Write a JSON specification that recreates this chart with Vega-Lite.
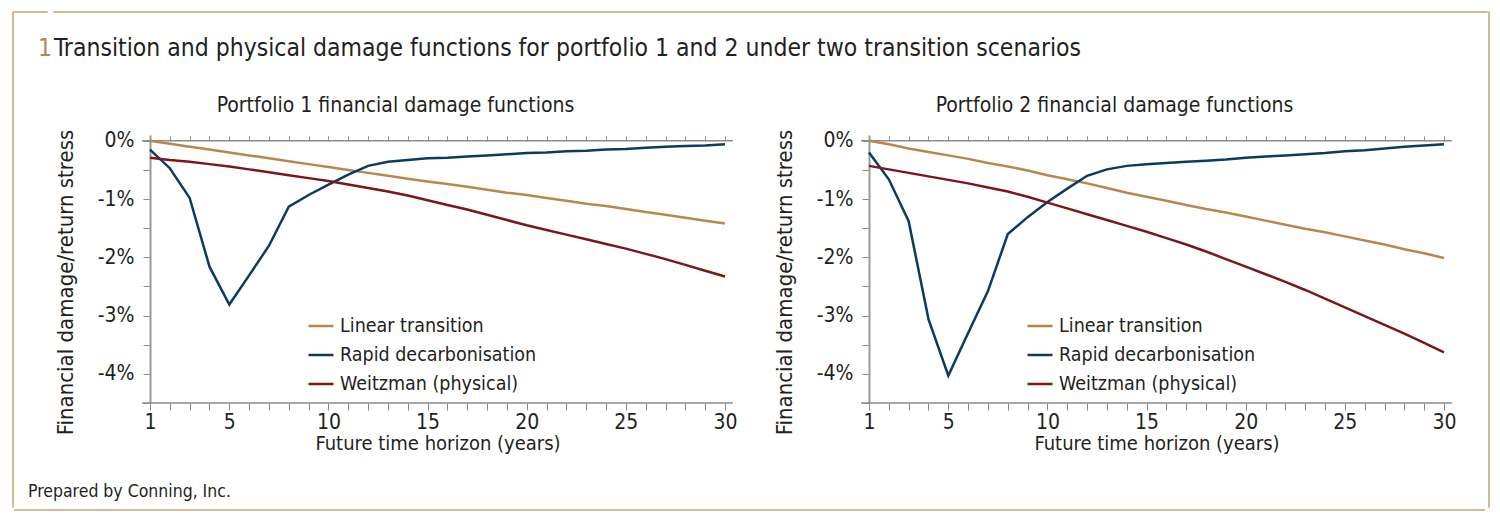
{
  "$schema": "https://vega.github.io/schema/vega-lite/v6.json",
  "padding": {"left": 12, "top": 11, "right": 5, "bottom": 5},
  "background": "white",
  "config": {
    "view": {"stroke": null},
    "font": "Liberation Sans Narrow, DejaVu Sans Condensed, sans-serif",
    "axis": {"labelColor": "#231f20", "titleColor": "#231f20", "titleFontWeight": "normal", "grid": false, "tickColor": "#8c8c8c", "domainColor": "#9a9a9a", "labelFont": "Liberation Sans Narrow, DejaVu Sans Condensed, sans-serif", "titleFont": "Liberation Sans Narrow, DejaVu Sans Condensed, sans-serif"},
    "title": {"font": "Liberation Sans Narrow, DejaVu Sans Condensed, sans-serif", "fontWeight": "normal", "color": "#231f20"},
    "legend": {"labelFont": "Liberation Sans Narrow, DejaVu Sans Condensed, sans-serif"}
  },
  "datasets": {
    "d": [
      {"portfolio": "Portfolio 1", "scenario": "Linear transition", "year": 1, "value": 0},
      {"portfolio": "Portfolio 1", "scenario": "Linear transition", "year": 2, "value": -0.05},
      {"portfolio": "Portfolio 1", "scenario": "Linear transition", "year": 3, "value": -0.10},
      {"portfolio": "Portfolio 1", "scenario": "Linear transition", "year": 4, "value": -0.15},
      {"portfolio": "Portfolio 1", "scenario": "Linear transition", "year": 5, "value": -0.20},
      {"portfolio": "Portfolio 1", "scenario": "Linear transition", "year": 6, "value": -0.25},
      {"portfolio": "Portfolio 1", "scenario": "Linear transition", "year": 7, "value": -0.30},
      {"portfolio": "Portfolio 1", "scenario": "Linear transition", "year": 8, "value": -0.35},
      {"portfolio": "Portfolio 1", "scenario": "Linear transition", "year": 9, "value": -0.40},
      {"portfolio": "Portfolio 1", "scenario": "Linear transition", "year": 10, "value": -0.45},
      {"portfolio": "Portfolio 1", "scenario": "Linear transition", "year": 11, "value": -0.50},
      {"portfolio": "Portfolio 1", "scenario": "Linear transition", "year": 12, "value": -0.55},
      {"portfolio": "Portfolio 1", "scenario": "Linear transition", "year": 13, "value": -0.60},
      {"portfolio": "Portfolio 1", "scenario": "Linear transition", "year": 14, "value": -0.65},
      {"portfolio": "Portfolio 1", "scenario": "Linear transition", "year": 15, "value": -0.70},
      {"portfolio": "Portfolio 1", "scenario": "Linear transition", "year": 16, "value": -0.74},
      {"portfolio": "Portfolio 1", "scenario": "Linear transition", "year": 17, "value": -0.79},
      {"portfolio": "Portfolio 1", "scenario": "Linear transition", "year": 18, "value": -0.84},
      {"portfolio": "Portfolio 1", "scenario": "Linear transition", "year": 19, "value": -0.89},
      {"portfolio": "Portfolio 1", "scenario": "Linear transition", "year": 20, "value": -0.93},
      {"portfolio": "Portfolio 1", "scenario": "Linear transition", "year": 21, "value": -0.98},
      {"portfolio": "Portfolio 1", "scenario": "Linear transition", "year": 22, "value": -1.03},
      {"portfolio": "Portfolio 1", "scenario": "Linear transition", "year": 23, "value": -1.08},
      {"portfolio": "Portfolio 1", "scenario": "Linear transition", "year": 24, "value": -1.12},
      {"portfolio": "Portfolio 1", "scenario": "Linear transition", "year": 25, "value": -1.17},
      {"portfolio": "Portfolio 1", "scenario": "Linear transition", "year": 26, "value": -1.22},
      {"portfolio": "Portfolio 1", "scenario": "Linear transition", "year": 27, "value": -1.27},
      {"portfolio": "Portfolio 1", "scenario": "Linear transition", "year": 28, "value": -1.32},
      {"portfolio": "Portfolio 1", "scenario": "Linear transition", "year": 29, "value": -1.37},
      {"portfolio": "Portfolio 1", "scenario": "Linear transition", "year": 30, "value": -1.42},
      {"portfolio": "Portfolio 1", "scenario": "Rapid decarbonisation", "year": 1, "value": -0.15},
      {"portfolio": "Portfolio 1", "scenario": "Rapid decarbonisation", "year": 2, "value": -0.47},
      {"portfolio": "Portfolio 1", "scenario": "Rapid decarbonisation", "year": 3, "value": -0.98},
      {"portfolio": "Portfolio 1", "scenario": "Rapid decarbonisation", "year": 4, "value": -2.16},
      {"portfolio": "Portfolio 1", "scenario": "Rapid decarbonisation", "year": 5, "value": -2.81},
      {"portfolio": "Portfolio 1", "scenario": "Rapid decarbonisation", "year": 6, "value": -2.31},
      {"portfolio": "Portfolio 1", "scenario": "Rapid decarbonisation", "year": 7, "value": -1.80},
      {"portfolio": "Portfolio 1", "scenario": "Rapid decarbonisation", "year": 8, "value": -1.13},
      {"portfolio": "Portfolio 1", "scenario": "Rapid decarbonisation", "year": 9, "value": -0.93},
      {"portfolio": "Portfolio 1", "scenario": "Rapid decarbonisation", "year": 10, "value": -0.75},
      {"portfolio": "Portfolio 1", "scenario": "Rapid decarbonisation", "year": 11, "value": -0.58},
      {"portfolio": "Portfolio 1", "scenario": "Rapid decarbonisation", "year": 12, "value": -0.43},
      {"portfolio": "Portfolio 1", "scenario": "Rapid decarbonisation", "year": 13, "value": -0.36},
      {"portfolio": "Portfolio 1", "scenario": "Rapid decarbonisation", "year": 14, "value": -0.33},
      {"portfolio": "Portfolio 1", "scenario": "Rapid decarbonisation", "year": 15, "value": -0.30},
      {"portfolio": "Portfolio 1", "scenario": "Rapid decarbonisation", "year": 16, "value": -0.29},
      {"portfolio": "Portfolio 1", "scenario": "Rapid decarbonisation", "year": 17, "value": -0.27},
      {"portfolio": "Portfolio 1", "scenario": "Rapid decarbonisation", "year": 18, "value": -0.25},
      {"portfolio": "Portfolio 1", "scenario": "Rapid decarbonisation", "year": 19, "value": -0.23},
      {"portfolio": "Portfolio 1", "scenario": "Rapid decarbonisation", "year": 20, "value": -0.21},
      {"portfolio": "Portfolio 1", "scenario": "Rapid decarbonisation", "year": 21, "value": -0.20},
      {"portfolio": "Portfolio 1", "scenario": "Rapid decarbonisation", "year": 22, "value": -0.18},
      {"portfolio": "Portfolio 1", "scenario": "Rapid decarbonisation", "year": 23, "value": -0.17},
      {"portfolio": "Portfolio 1", "scenario": "Rapid decarbonisation", "year": 24, "value": -0.15},
      {"portfolio": "Portfolio 1", "scenario": "Rapid decarbonisation", "year": 25, "value": -0.14},
      {"portfolio": "Portfolio 1", "scenario": "Rapid decarbonisation", "year": 26, "value": -0.12},
      {"portfolio": "Portfolio 1", "scenario": "Rapid decarbonisation", "year": 27, "value": -0.10},
      {"portfolio": "Portfolio 1", "scenario": "Rapid decarbonisation", "year": 28, "value": -0.09},
      {"portfolio": "Portfolio 1", "scenario": "Rapid decarbonisation", "year": 29, "value": -0.08},
      {"portfolio": "Portfolio 1", "scenario": "Rapid decarbonisation", "year": 30, "value": -0.06},
      {"portfolio": "Portfolio 1", "scenario": "Weitzman (physical)", "year": 1, "value": -0.29},
      {"portfolio": "Portfolio 1", "scenario": "Weitzman (physical)", "year": 2, "value": -0.33},
      {"portfolio": "Portfolio 1", "scenario": "Weitzman (physical)", "year": 3, "value": -0.36},
      {"portfolio": "Portfolio 1", "scenario": "Weitzman (physical)", "year": 4, "value": -0.40},
      {"portfolio": "Portfolio 1", "scenario": "Weitzman (physical)", "year": 5, "value": -0.44},
      {"portfolio": "Portfolio 1", "scenario": "Weitzman (physical)", "year": 6, "value": -0.49},
      {"portfolio": "Portfolio 1", "scenario": "Weitzman (physical)", "year": 7, "value": -0.54},
      {"portfolio": "Portfolio 1", "scenario": "Weitzman (physical)", "year": 8, "value": -0.59},
      {"portfolio": "Portfolio 1", "scenario": "Weitzman (physical)", "year": 9, "value": -0.64},
      {"portfolio": "Portfolio 1", "scenario": "Weitzman (physical)", "year": 10, "value": -0.69},
      {"portfolio": "Portfolio 1", "scenario": "Weitzman (physical)", "year": 11, "value": -0.75},
      {"portfolio": "Portfolio 1", "scenario": "Weitzman (physical)", "year": 12, "value": -0.81},
      {"portfolio": "Portfolio 1", "scenario": "Weitzman (physical)", "year": 13, "value": -0.87},
      {"portfolio": "Portfolio 1", "scenario": "Weitzman (physical)", "year": 14, "value": -0.94},
      {"portfolio": "Portfolio 1", "scenario": "Weitzman (physical)", "year": 15, "value": -1.02},
      {"portfolio": "Portfolio 1", "scenario": "Weitzman (physical)", "year": 16, "value": -1.10},
      {"portfolio": "Portfolio 1", "scenario": "Weitzman (physical)", "year": 17, "value": -1.18},
      {"portfolio": "Portfolio 1", "scenario": "Weitzman (physical)", "year": 18, "value": -1.27},
      {"portfolio": "Portfolio 1", "scenario": "Weitzman (physical)", "year": 19, "value": -1.36},
      {"portfolio": "Portfolio 1", "scenario": "Weitzman (physical)", "year": 20, "value": -1.45},
      {"portfolio": "Portfolio 1", "scenario": "Weitzman (physical)", "year": 21, "value": -1.53},
      {"portfolio": "Portfolio 1", "scenario": "Weitzman (physical)", "year": 22, "value": -1.61},
      {"portfolio": "Portfolio 1", "scenario": "Weitzman (physical)", "year": 23, "value": -1.69},
      {"portfolio": "Portfolio 1", "scenario": "Weitzman (physical)", "year": 24, "value": -1.77},
      {"portfolio": "Portfolio 1", "scenario": "Weitzman (physical)", "year": 25, "value": -1.85},
      {"portfolio": "Portfolio 1", "scenario": "Weitzman (physical)", "year": 26, "value": -1.94},
      {"portfolio": "Portfolio 1", "scenario": "Weitzman (physical)", "year": 27, "value": -2.03},
      {"portfolio": "Portfolio 1", "scenario": "Weitzman (physical)", "year": 28, "value": -2.13},
      {"portfolio": "Portfolio 1", "scenario": "Weitzman (physical)", "year": 29, "value": -2.23},
      {"portfolio": "Portfolio 1", "scenario": "Weitzman (physical)", "year": 30, "value": -2.33},
      {"portfolio": "Portfolio 2", "scenario": "Linear transition", "year": 1, "value": 0},
      {"portfolio": "Portfolio 2", "scenario": "Linear transition", "year": 2, "value": -0.06},
      {"portfolio": "Portfolio 2", "scenario": "Linear transition", "year": 3, "value": -0.13},
      {"portfolio": "Portfolio 2", "scenario": "Linear transition", "year": 4, "value": -0.19},
      {"portfolio": "Portfolio 2", "scenario": "Linear transition", "year": 5, "value": -0.25},
      {"portfolio": "Portfolio 2", "scenario": "Linear transition", "year": 6, "value": -0.31},
      {"portfolio": "Portfolio 2", "scenario": "Linear transition", "year": 7, "value": -0.38},
      {"portfolio": "Portfolio 2", "scenario": "Linear transition", "year": 8, "value": -0.44},
      {"portfolio": "Portfolio 2", "scenario": "Linear transition", "year": 9, "value": -0.51},
      {"portfolio": "Portfolio 2", "scenario": "Linear transition", "year": 10, "value": -0.59},
      {"portfolio": "Portfolio 2", "scenario": "Linear transition", "year": 11, "value": -0.66},
      {"portfolio": "Portfolio 2", "scenario": "Linear transition", "year": 12, "value": -0.73},
      {"portfolio": "Portfolio 2", "scenario": "Linear transition", "year": 13, "value": -0.81},
      {"portfolio": "Portfolio 2", "scenario": "Linear transition", "year": 14, "value": -0.89},
      {"portfolio": "Portfolio 2", "scenario": "Linear transition", "year": 15, "value": -0.96},
      {"portfolio": "Portfolio 2", "scenario": "Linear transition", "year": 16, "value": -1.03},
      {"portfolio": "Portfolio 2", "scenario": "Linear transition", "year": 17, "value": -1.10},
      {"portfolio": "Portfolio 2", "scenario": "Linear transition", "year": 18, "value": -1.17},
      {"portfolio": "Portfolio 2", "scenario": "Linear transition", "year": 19, "value": -1.23},
      {"portfolio": "Portfolio 2", "scenario": "Linear transition", "year": 20, "value": -1.30},
      {"portfolio": "Portfolio 2", "scenario": "Linear transition", "year": 21, "value": -1.37},
      {"portfolio": "Portfolio 2", "scenario": "Linear transition", "year": 22, "value": -1.44},
      {"portfolio": "Portfolio 2", "scenario": "Linear transition", "year": 23, "value": -1.51},
      {"portfolio": "Portfolio 2", "scenario": "Linear transition", "year": 24, "value": -1.57},
      {"portfolio": "Portfolio 2", "scenario": "Linear transition", "year": 25, "value": -1.64},
      {"portfolio": "Portfolio 2", "scenario": "Linear transition", "year": 26, "value": -1.71},
      {"portfolio": "Portfolio 2", "scenario": "Linear transition", "year": 27, "value": -1.78},
      {"portfolio": "Portfolio 2", "scenario": "Linear transition", "year": 28, "value": -1.86},
      {"portfolio": "Portfolio 2", "scenario": "Linear transition", "year": 29, "value": -1.93},
      {"portfolio": "Portfolio 2", "scenario": "Linear transition", "year": 30, "value": -2.01},
      {"portfolio": "Portfolio 2", "scenario": "Rapid decarbonisation", "year": 1, "value": -0.20},
      {"portfolio": "Portfolio 2", "scenario": "Rapid decarbonisation", "year": 2, "value": -0.66},
      {"portfolio": "Portfolio 2", "scenario": "Rapid decarbonisation", "year": 3, "value": -1.38},
      {"portfolio": "Portfolio 2", "scenario": "Rapid decarbonisation", "year": 4, "value": -3.06},
      {"portfolio": "Portfolio 2", "scenario": "Rapid decarbonisation", "year": 5, "value": -4.03},
      {"portfolio": "Portfolio 2", "scenario": "Rapid decarbonisation", "year": 6, "value": -3.30},
      {"portfolio": "Portfolio 2", "scenario": "Rapid decarbonisation", "year": 7, "value": -2.58},
      {"portfolio": "Portfolio 2", "scenario": "Rapid decarbonisation", "year": 8, "value": -1.60},
      {"portfolio": "Portfolio 2", "scenario": "Rapid decarbonisation", "year": 9, "value": -1.31},
      {"portfolio": "Portfolio 2", "scenario": "Rapid decarbonisation", "year": 10, "value": -1.05},
      {"portfolio": "Portfolio 2", "scenario": "Rapid decarbonisation", "year": 11, "value": -0.82},
      {"portfolio": "Portfolio 2", "scenario": "Rapid decarbonisation", "year": 12, "value": -0.60},
      {"portfolio": "Portfolio 2", "scenario": "Rapid decarbonisation", "year": 13, "value": -0.49},
      {"portfolio": "Portfolio 2", "scenario": "Rapid decarbonisation", "year": 14, "value": -0.43},
      {"portfolio": "Portfolio 2", "scenario": "Rapid decarbonisation", "year": 15, "value": -0.40},
      {"portfolio": "Portfolio 2", "scenario": "Rapid decarbonisation", "year": 16, "value": -0.38},
      {"portfolio": "Portfolio 2", "scenario": "Rapid decarbonisation", "year": 17, "value": -0.36},
      {"portfolio": "Portfolio 2", "scenario": "Rapid decarbonisation", "year": 18, "value": -0.34},
      {"portfolio": "Portfolio 2", "scenario": "Rapid decarbonisation", "year": 19, "value": -0.32},
      {"portfolio": "Portfolio 2", "scenario": "Rapid decarbonisation", "year": 20, "value": -0.29},
      {"portfolio": "Portfolio 2", "scenario": "Rapid decarbonisation", "year": 21, "value": -0.27},
      {"portfolio": "Portfolio 2", "scenario": "Rapid decarbonisation", "year": 22, "value": -0.25},
      {"portfolio": "Portfolio 2", "scenario": "Rapid decarbonisation", "year": 23, "value": -0.23},
      {"portfolio": "Portfolio 2", "scenario": "Rapid decarbonisation", "year": 24, "value": -0.21},
      {"portfolio": "Portfolio 2", "scenario": "Rapid decarbonisation", "year": 25, "value": -0.18},
      {"portfolio": "Portfolio 2", "scenario": "Rapid decarbonisation", "year": 26, "value": -0.16},
      {"portfolio": "Portfolio 2", "scenario": "Rapid decarbonisation", "year": 27, "value": -0.13},
      {"portfolio": "Portfolio 2", "scenario": "Rapid decarbonisation", "year": 28, "value": -0.10},
      {"portfolio": "Portfolio 2", "scenario": "Rapid decarbonisation", "year": 29, "value": -0.08},
      {"portfolio": "Portfolio 2", "scenario": "Rapid decarbonisation", "year": 30, "value": -0.06},
      {"portfolio": "Portfolio 2", "scenario": "Weitzman (physical)", "year": 1, "value": -0.43},
      {"portfolio": "Portfolio 2", "scenario": "Weitzman (physical)", "year": 2, "value": -0.49},
      {"portfolio": "Portfolio 2", "scenario": "Weitzman (physical)", "year": 3, "value": -0.55},
      {"portfolio": "Portfolio 2", "scenario": "Weitzman (physical)", "year": 4, "value": -0.61},
      {"portfolio": "Portfolio 2", "scenario": "Weitzman (physical)", "year": 5, "value": -0.67},
      {"portfolio": "Portfolio 2", "scenario": "Weitzman (physical)", "year": 6, "value": -0.73},
      {"portfolio": "Portfolio 2", "scenario": "Weitzman (physical)", "year": 7, "value": -0.80},
      {"portfolio": "Portfolio 2", "scenario": "Weitzman (physical)", "year": 8, "value": -0.87},
      {"portfolio": "Portfolio 2", "scenario": "Weitzman (physical)", "year": 9, "value": -0.96},
      {"portfolio": "Portfolio 2", "scenario": "Weitzman (physical)", "year": 10, "value": -1.06},
      {"portfolio": "Portfolio 2", "scenario": "Weitzman (physical)", "year": 11, "value": -1.16},
      {"portfolio": "Portfolio 2", "scenario": "Weitzman (physical)", "year": 12, "value": -1.26},
      {"portfolio": "Portfolio 2", "scenario": "Weitzman (physical)", "year": 13, "value": -1.36},
      {"portfolio": "Portfolio 2", "scenario": "Weitzman (physical)", "year": 14, "value": -1.46},
      {"portfolio": "Portfolio 2", "scenario": "Weitzman (physical)", "year": 15, "value": -1.56},
      {"portfolio": "Portfolio 2", "scenario": "Weitzman (physical)", "year": 16, "value": -1.67},
      {"portfolio": "Portfolio 2", "scenario": "Weitzman (physical)", "year": 17, "value": -1.78},
      {"portfolio": "Portfolio 2", "scenario": "Weitzman (physical)", "year": 18, "value": -1.90},
      {"portfolio": "Portfolio 2", "scenario": "Weitzman (physical)", "year": 19, "value": -2.03},
      {"portfolio": "Portfolio 2", "scenario": "Weitzman (physical)", "year": 20, "value": -2.16},
      {"portfolio": "Portfolio 2", "scenario": "Weitzman (physical)", "year": 21, "value": -2.29},
      {"portfolio": "Portfolio 2", "scenario": "Weitzman (physical)", "year": 22, "value": -2.42},
      {"portfolio": "Portfolio 2", "scenario": "Weitzman (physical)", "year": 23, "value": -2.56},
      {"portfolio": "Portfolio 2", "scenario": "Weitzman (physical)", "year": 24, "value": -2.71},
      {"portfolio": "Portfolio 2", "scenario": "Weitzman (physical)", "year": 25, "value": -2.86},
      {"portfolio": "Portfolio 2", "scenario": "Weitzman (physical)", "year": 26, "value": -3.01},
      {"portfolio": "Portfolio 2", "scenario": "Weitzman (physical)", "year": 27, "value": -3.16},
      {"portfolio": "Portfolio 2", "scenario": "Weitzman (physical)", "year": 28, "value": -3.31},
      {"portfolio": "Portfolio 2", "scenario": "Weitzman (physical)", "year": 29, "value": -3.47},
      {"portfolio": "Portfolio 2", "scenario": "Weitzman (physical)", "year": 30, "value": -3.63}
    ]
  },
  "spacing": 0,
  "hconcat": [
    {
      "width": 0.001,
      "height": 495,
      "view": {"stroke": "#c4a373", "strokeWidth": 1.5, "fill": null},
      "data": {"values": []},
      "mark": {"type": "rule", "opacity": 0},
      "encoding": {}
    },
    {
      "spacing": 28,
      "vconcat": [
        {
          "spacing": 33,
          "vconcat": [
            {
              "spacing": 0,
              "hconcat": [
                {
                  "width": 32,
                  "height": 0.001,
                  "view": {"stroke": "#c4a373", "strokeWidth": 1.5, "fill": null},
                  "title": {"text": "1", "orient": "bottom", "anchor": "start", "frame": "group", "color": "#b8874e", "fontSize": 24.5, "baseline": "alphabetic", "offset": 44, "dx": 23},
                  "data": {"values": []},
                  "mark": {"type": "rule", "opacity": 0},
                  "encoding": {}
                },
                {
                  "width": 1433,
                  "height": 0.001,
                  "view": {"stroke": "#c4a373", "strokeWidth": 1.5, "fill": null},
                  "title": {"text": "Transition and physical damage functions for portfolio 1 and 2 under two transition scenarios", "orient": "bottom", "anchor": "start", "frame": "group", "fontSize": 24.5, "baseline": "alphabetic", "offset": 44},
                  "data": {"values": []},
                  "mark": {"type": "rule", "opacity": 0},
                  "encoding": {}
                }
              ]
            },
            {
              "resolve": {"scale": {"color": "independent"}, "legend": {"color": "independent"}},
              "spacing": 35,
              "hconcat": [
                {
                  "width": 4,
                  "height": 0.001,
                  "data": {"values": []},
                  "mark": {"type": "rule", "opacity": 0},
                  "encoding": {}
                },
                {
                  "width": 575,
                  "height": 268,
                  "title": {"text": "Portfolio 1 financial damage functions", "fontSize": 21, "baseline": "alphabetic", "frame": "group", "dx": -42, "offset": -4},
                  "data": {"name": "d"},
                  "transform": [{"filter": "datum.portfolio === 'Portfolio 1'"}],
                  "resolve": {"axis": {"x": "independent", "y": "independent"}},
                  "layer": [
                    {
                      "data": {"values": [{}]},
                      "mark": {"type": "rule", "color": "#8c8c8c", "strokeWidth": 1.5},
                      "encoding": {
                        "x": {"datum": 0.6, "type": "quantitative", "scale": {"domain": [1, 30], "nice": false, "zero": false}, "axis": {"orient": "top", "offset": -5.83, "minExtent": 0, "maxExtent": 0, "domain": false, "labels": false, "ticks": true, "tickSize": 5, "values": [1,2,3,4,5,6,7,8,9,10,11,12,13,14,15,16,17,18,19,20,21,22,23,24,25,26,27,28,29,30], "title": null}},
                        "x2": {"datum": 30.4},
                        "y": {"datum": 0, "type": "quantitative", "scale": {"domain": [-4.5, 0.1], "nice": false, "zero": false}, "axis": null}
                      }
                    },
                    {
                      "data": {"values": [{}]},
                      "mark": {"type": "rule", "color": "#8c8c8c", "strokeWidth": 1.5},
                      "encoding": {
                        "x": {"datum": 0.6, "type": "quantitative", "axis": null},
                        "x2": {"datum": 30.4},
                        "y": {"datum": -4.5, "type": "quantitative", "axis": null}
                      }
                    },
                    {
                      "mark": {"type": "line", "strokeWidth": 2.5},
                      "encoding": {
                        "x": {"field": "year", "type": "quantitative", "axis": {"orient": "bottom", "domain": false, "tickSize": 7, "values": [1,2,3,4,5,6,7,8,9,10,11,12,13,14,15,16,17,18,19,20,21,22,23,24,25,26,27,28,29,30], "labelExpr": "indexof([1,5,10,15,20,25,30], datum.value) >= 0 ? datum.value : ''", "labelFontSize": 21, "labelPadding": 1, "labelFlush": false, "labelOverlap": false, "title": "Future time horizon (years)", "titleFontSize": 20, "titlePadding": 1}},
                        "y": {"field": "value", "type": "quantitative", "axis": {"orient": "left", "domainWidth": 2, "tickSize": 7, "values": [-4.5,-4,-3.5,-3,-2.5,-2,-1.5,-1,-0.5,0], "labelExpr": "datum.value % 1 === 0 ? datum.value + '%' : ''", "labelFontSize": 21, "labelPadding": 9, "labelFlush": false, "labelOverlap": false, "title": "Financial damage/return stress", "titleFontSize": 22, "titlePadding": 20, "titleY": 147}},
                        "color": {"field": "scenario", "type": "nominal", "scale": {"domain": ["Linear transition", "Rapid decarbonisation", "Weitzman (physical)"], "range": ["#b8874e", "#0a3b62", "#7b1719"]}, "legend": {"title": null, "orient": "none", "legendX": 157, "legendY": 177, "symbolType": "stroke", "symbolSize": 625, "symbolStrokeWidth": 2.5, "labelFontSize": 19.5, "labelLimit": 500, "labelColor": "#231f20", "labelOffset": 5, "rowPadding": 5}}
                      }
                    }
                  ]
                },
                {
                  "width": 575,
                  "height": 268,
                  "title": {"text": "Portfolio 2 financial damage functions", "fontSize": 21, "baseline": "alphabetic", "frame": "group", "dx": -42, "offset": -4},
                  "data": {"name": "d"},
                  "transform": [{"filter": "datum.portfolio === 'Portfolio 2'"}],
                  "resolve": {"axis": {"x": "independent", "y": "independent"}},
                  "layer": [
                    {
                      "data": {"values": [{}]},
                      "mark": {"type": "rule", "color": "#8c8c8c", "strokeWidth": 1.5},
                      "encoding": {
                        "x": {"datum": 0.6, "type": "quantitative", "scale": {"domain": [1, 30], "nice": false, "zero": false}, "axis": {"orient": "top", "offset": -5.83, "minExtent": 0, "maxExtent": 0, "domain": false, "labels": false, "ticks": true, "tickSize": 5, "values": [1,2,3,4,5,6,7,8,9,10,11,12,13,14,15,16,17,18,19,20,21,22,23,24,25,26,27,28,29,30], "title": null}},
                        "x2": {"datum": 30.4},
                        "y": {"datum": 0, "type": "quantitative", "scale": {"domain": [-4.5, 0.1], "nice": false, "zero": false}, "axis": null}
                      }
                    },
                    {
                      "data": {"values": [{}]},
                      "mark": {"type": "rule", "color": "#8c8c8c", "strokeWidth": 1.5},
                      "encoding": {
                        "x": {"datum": 0.6, "type": "quantitative", "axis": null},
                        "x2": {"datum": 30.4},
                        "y": {"datum": -4.5, "type": "quantitative", "axis": null}
                      }
                    },
                    {
                      "mark": {"type": "line", "strokeWidth": 2.5},
                      "encoding": {
                        "x": {"field": "year", "type": "quantitative", "axis": {"orient": "bottom", "domain": false, "tickSize": 7, "values": [1,2,3,4,5,6,7,8,9,10,11,12,13,14,15,16,17,18,19,20,21,22,23,24,25,26,27,28,29,30], "labelExpr": "indexof([1,5,10,15,20,25,30], datum.value) >= 0 ? datum.value : ''", "labelFontSize": 21, "labelPadding": 1, "labelFlush": false, "labelOverlap": false, "title": "Future time horizon (years)", "titleFontSize": 20, "titlePadding": 1}},
                        "y": {"field": "value", "type": "quantitative", "axis": {"orient": "left", "domainWidth": 2, "tickSize": 7, "values": [-4.5,-4,-3.5,-3,-2.5,-2,-1.5,-1,-0.5,0], "labelExpr": "datum.value % 1 === 0 ? datum.value + '%' : ''", "labelFontSize": 21, "labelPadding": 9, "labelFlush": false, "labelOverlap": false, "title": "Financial damage/return stress", "titleFontSize": 22, "titlePadding": 20, "titleY": 147}},
                        "color": {"field": "scenario", "type": "nominal", "scale": {"domain": ["Linear transition", "Rapid decarbonisation", "Weitzman (physical)"], "range": ["#b8874e", "#0a3b62", "#7b1719"]}, "legend": {"title": null, "orient": "none", "legendX": 157, "legendY": 177, "symbolType": "stroke", "symbolSize": 625, "symbolStrokeWidth": 2.5, "labelFontSize": 19.5, "labelLimit": 500, "labelColor": "#231f20", "labelOffset": 5, "rowPadding": 5}}
                      }
                    }
                  ]
                }
              ]
            }
          ]
        },
        {
          "width": 1469,
          "height": 0.001,
          "view": {"stroke": "#c4a373", "strokeWidth": 1.5, "fill": null},
          "title": {"text": "Prepared by Conning, Inc.", "orient": "top", "anchor": "start", "frame": "group", "fontSize": 17.5, "baseline": "alphabetic", "offset": -4, "dx": 13},
          "data": {"values": []},
          "mark": {"type": "rule", "opacity": 0},
          "encoding": {}
        }
      ]
    },
    {
      "width": 0.001,
      "height": 495,
      "view": {"stroke": "#c4a373", "strokeWidth": 1.5, "fill": null},
      "data": {"values": []},
      "mark": {"type": "rule", "opacity": 0},
      "encoding": {}
    }
  ]
}
